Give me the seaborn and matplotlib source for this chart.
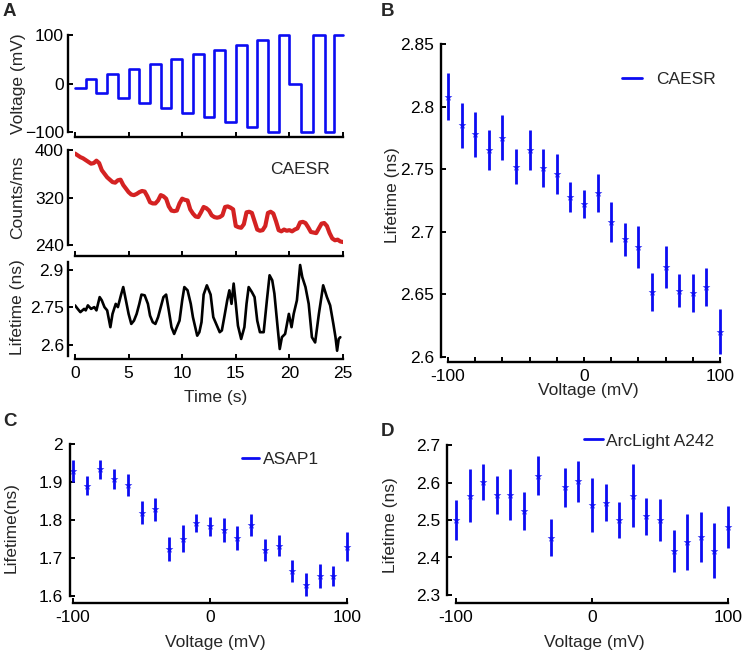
import matplotlib
matplotlib.use('Agg')
import matplotlib.pyplot as plt
import numpy as np
import pandas as pd
import seaborn as sns
from matplotlib.lines import Line2D

sns.set_style('ticks', {'xtick.direction': 'in', 'ytick.direction': 'in'})
plt.rcParams['font.family'] = ['Liberation Sans', 'DejaVu Sans']
plt.rcParams['font.size'] = 12.5

BLUE = '#0c0cf2'
RED = '#d42222'

# --- panel A: voltage protocol (step start times, level held until next step)
step_times = [0, 1, 2, 3, 4, 5, 6, 7, 8, 9, 10, 11, 12, 13, 14, 15, 16, 17, 18, 19,
              20, 21.1, 22.2, 23.3, 24.2, 25]
step_levels = [-10, 10, -20, 20, -30, 30, -40, 40, -50, 50, -60, 60, -70, 70, -80, 80,
               -90, 90, -100, 100, 0, -100, 100, -100, 100, 100]

# --- panel A: photon counts, sampled every 0.25 s
count_dt = 0.25
counts = [394, 391, 388, 386, 383, 380, 377, 378, 382, 378, 366, 360, 354, 350, 346, 345,
          349, 350, 341, 335, 329, 325, 324, 326, 329, 331, 330, 322, 312, 310, 310, 315,
          324, 322, 318, 305, 298, 297, 298, 310, 318, 316, 315, 300, 293, 288, 287, 295,
          304, 302, 298, 290, 287, 286, 287, 290, 304, 305, 303, 300, 272, 270, 269, 275,
          295, 296, 294, 280, 266, 264, 265, 272, 294, 296, 293, 280, 265, 263, 266, 264,
          265, 263, 266, 268, 278, 279, 277, 270, 262, 261, 260, 268, 276, 277, 272, 260,
          251, 248, 249, 246, 245]

# --- panel A: lifetime trace
lt_time = [0, 0.25, 0.5, 0.85, 1.0, 1.2, 1.5, 1.8, 2.0, 2.3, 2.5, 2.75, 3.0, 3.3, 3.5, 3.8,
           4.0, 4.3, 4.5, 4.75, 5.0, 5.25, 5.5, 5.75, 6.0, 6.2, 6.5, 6.8, 7.0, 7.25, 7.5,
           7.75, 8.0, 8.25, 8.5, 8.75, 9.0, 9.25, 9.5, 9.75, 10.0, 10.2, 10.5, 10.8, 11.0,
           11.4, 11.6, 11.8, 12.0, 12.3, 12.65, 12.9, 13.1, 13.5, 13.7, 13.95, 14.2, 14.4,
           14.6, 14.8, 15.0, 15.2, 15.5, 15.8, 16.0, 16.2, 16.5, 16.75, 17.0, 17.25, 17.6,
           17.9, 18.15, 18.4, 18.6, 18.9, 19.1, 19.3, 19.6, 19.95, 20.2, 20.4, 20.7, 21.0,
           21.2, 21.5, 21.8, 22.1, 22.4, 22.75, 23.15, 23.5, 23.8, 24.1, 24.3, 24.45, 24.6,
           24.75]
lt_value = [2.757, 2.743, 2.73, 2.743, 2.737, 2.757, 2.743, 2.75, 2.737, 2.79, 2.777, 2.75,
            2.737, 2.67, 2.723, 2.763, 2.75, 2.80, 2.83, 2.777, 2.723, 2.683, 2.696, 2.723,
            2.763, 2.80, 2.797, 2.763, 2.716, 2.69, 2.683, 2.71, 2.75, 2.79, 2.80, 2.737,
            2.67, 2.643, 2.67, 2.696, 2.777, 2.83, 2.817, 2.763, 2.71, 2.636, 2.65, 2.69,
            2.80, 2.837, 2.80, 2.71, 2.69, 2.65, 2.657, 2.716, 2.777, 2.817, 2.763, 2.844,
            2.763, 2.676, 2.623, 2.67, 2.763, 2.83, 2.81, 2.79, 2.696, 2.65, 2.65, 2.777,
            2.877, 2.857, 2.804, 2.67, 2.583, 2.63, 2.643, 2.723, 2.67, 2.723, 2.777, 2.918,
            2.87, 2.83, 2.763, 2.63, 2.609, 2.723, 2.837, 2.79, 2.757, 2.683, 2.63, 2.576,
            2.623, 2.63]

# --- panels B-D: lifetime vs voltage
voltages = [-100, -90, -80, -70, -60, -50, -40, -30, -20, -10, 0,
            10, 20, 30, 40, 50, 60, 70, 80, 90, 100]
caesr_mean = [2.808, 2.785, 2.778, 2.765, 2.775, 2.752, 2.765, 2.751, 2.746, 2.728, 2.722,
              2.731, 2.708, 2.694, 2.688, 2.652, 2.672, 2.653, 2.651, 2.656, 2.620]
caesr_err = [0.019, 0.018, 0.018, 0.016, 0.018, 0.014, 0.016, 0.015, 0.016, 0.012, 0.011,
             0.015, 0.016, 0.013, 0.017, 0.015, 0.017, 0.013, 0.015, 0.015, 0.018]
asap_mean = [1.930, 1.890, 1.933, 1.908, 1.892, 1.819, 1.828, 1.723, 1.751, 1.793, 1.784,
             1.773, 1.753, 1.788, 1.720, 1.732, 1.666, 1.630, 1.653, 1.653, 1.730]
asap_err = [0.029, 0.025, 0.024, 0.026, 0.029, 0.030, 0.031, 0.031, 0.035, 0.024, 0.025,
            0.031, 0.032, 0.029, 0.029, 0.028, 0.029, 0.030, 0.031, 0.026, 0.039]
arc_mean = [2.500, 2.565, 2.601, 2.566, 2.568, 2.524, 2.618, 2.453, 2.588, 2.603, 2.539,
            2.546, 2.500, 2.565, 2.510, 2.499, 2.416, 2.442, 2.455, 2.418, 2.482]
arc_err = [0.053, 0.071, 0.048, 0.051, 0.067, 0.050, 0.052, 0.049, 0.052, 0.055, 0.072,
           0.050, 0.048, 0.084, 0.050, 0.056, 0.056, 0.075, 0.067, 0.073, 0.056]

volt_df = pd.DataFrame({'time': step_times, 'voltage': step_levels})
count_df = pd.DataFrame({'time': np.arange(len(counts)) * count_dt, 'counts': counts})
lt_df = pd.DataFrame({'time': lt_time, 'lifetime': lt_value})

PX = 100 / 72.0  # pixels per point at dpi 100


def style_axis(ax, left_off, bottom_off, ypad=4):
    sns.despine(ax=ax)
    ax.spines['left'].set_position(('outward', left_off / PX))
    ax.spines['bottom'].set_position(('outward', bottom_off / PX))
    for side in ('left', 'bottom'):
        ax.spines[side].set_linewidth(1.7)
        ax.spines[side].set_color('black')
    ax.tick_params(axis='both', direction='in', length=3.5, width=1.4, labelsize=12.5,
                   colors='black')
    ax.tick_params(axis='y', pad=ypad)
    ax.tick_params(axis='x', pad=5)
    ax.set_facecolor('none')


def add_rect(rect):
    return fig.add_axes([rect[0] / 744, 1 - rect[3] / 657,
                         (rect[2] - rect[0]) / 744, (rect[3] - rect[1]) / 657])


fig = plt.figure(figsize=(7.44, 6.57), dpi=100)

# ---------------- A: voltage
ax1 = add_rect((75, 35, 343, 132))
sns.lineplot(data=volt_df, x='time', y='voltage', ax=ax1, color=BLUE, lw=1.9,
             drawstyle='steps-post', clip_on=False)
ax1.set_xlim(0, 25)
ax1.set_ylim(-100, 100)
ax1.set_xticks([0, 5, 10, 15, 20, 25])
ax1.set_xticklabels([])
ax1.set_yticks([-100, 0, 100])
ax1.set_xlabel('')
ax1.set_ylabel('Voltage (mV)', fontsize=12.5)
style_axis(ax1, 7, 5, ypad=3)
ax1.yaxis.set_label_coords(-0.183, 0.5)

# ---------------- A: counts
ax2 = add_rect((75, 150, 343, 245))
sns.lineplot(data=count_df, x='time', y='counts', ax=ax2, color=RED, lw=3.0)
ax2.set_xlim(0, 25)
ax2.set_ylim(240, 400)
ax2.set_xticks([0, 5, 10, 15, 20, 25])
ax2.set_xticklabels([])
ax2.set_yticks([240, 320, 400])
ax2.set_xlabel('')
ax2.set_ylabel('Counts/ms', fontsize=12.5)
ax2.text(0.728, 0.80, 'CAESR', transform=ax2.transAxes, fontsize=12.5, va='center')
style_axis(ax2, 7, 11, ypad=3)
ax2.yaxis.set_label_coords(-0.187, 0.5)

# ---------------- A: lifetime
ax3 = add_rect((75, 262, 343, 356))
sns.lineplot(data=lt_df, x='time', y='lifetime', ax=ax3, color='black', lw=1.9)
ax3.set_xlim(0, 25)
ax3.set_ylim(2.555, 2.93)
ax3.set_xticks([0, 5, 10, 15, 20, 25])
ax3.set_yticks([2.6, 2.75, 2.9])
ax3.set_yticklabels(['2.6', '2.75', '2.9'])
ax3.set_xlabel('Time (s)', fontsize=12.5)
ax3.set_ylabel('Lifetime (ns)', fontsize=12.5)
style_axis(ax3, 7, 3, ypad=3)
ax3.yaxis.set_label_coords(-0.187, 0.52)
ax3.xaxis.set_label_coords(0.526, -0.36)
ax3.xaxis.label.set_va('top')


def error_panel(ax, mean, err, ylim, yticks, yticklabels, xticks, xticklabels):
    df = pd.DataFrame({'voltage': voltages, 'lifetime': mean, 'err': err})
    ax.errorbar(df['voltage'], df['lifetime'], yerr=df['err'], fmt='none',
                ecolor=BLUE, elinewidth=2.0, capsize=0, clip_on=False)
    sns.scatterplot(data=df, x='voltage', y='lifetime', ax=ax, color=BLUE, marker='*',
                    s=34, linewidth=0, clip_on=False, legend=False)
    ax.set_xlim(-100, 100)
    ax.set_ylim(*ylim)
    ax.set_yticks(yticks)
    ax.set_yticklabels(yticklabels)
    ax.set_xticks(xticks)
    ax.set_xticklabels(xticklabels)
    ax.set_xlabel('Voltage (mV)', fontsize=12.5)
    ax.xaxis.label.set_va('top')
    return Line2D([], [], color=BLUE, lw=2.0)


# ---------------- B
axb = add_rect((448, 44, 720, 357))
hb = error_panel(axb, caesr_mean, caesr_err, (2.6, 2.85),
                 [2.6, 2.65, 2.7, 2.75, 2.8, 2.85],
                 ['2.6', '2.65', '2.7', '2.75', '2.8', '2.85'],
                 [-100, -80, -60, -40, -20, 0, 20, 40, 60, 80, 100],
                 ['-100', '', '', '', '', '0', '', '', '', '', '100'])
axb.set_ylabel('Lifetime (ns)', fontsize=12.5)
style_axis(axb, 7, 5, ypad=5)
axb.yaxis.set_label_coords(-0.176, 0.518)
axb.xaxis.set_label_coords(0.515, -0.083)
axb.legend([hb], ['CAESR'], loc='center left', bbox_to_anchor=(0.640, 0.888),
           frameon=False, borderpad=0, borderaxespad=0, handlelength=1.15,
           handletextpad=0.8, fontsize=12.5)

# ---------------- C
axc = add_rect((73, 444, 347, 596))
hc = error_panel(axc, asap_mean, asap_err, (1.6, 2.0),
                 [1.6, 1.7, 1.8, 1.9, 2.0], ['1.6', '1.7', '1.8', '1.9', '2'],
                 [-100, 0, 100], ['-100', '0', '100'])
axc.set_ylabel('Lifetime(ns)', fontsize=12.5)
style_axis(axc, 3, 7, ypad=5)
axc.yaxis.set_label_coords(-0.20, 0.45)
axc.xaxis.set_label_coords(0.518, -0.257)
axc.legend([hc], ['ASAP1'], loc='center left', bbox_to_anchor=(0.617, 0.901),
           frameon=False, borderpad=0, borderaxespad=0, handlelength=0.97,
           handletextpad=0.25, fontsize=12.5)

# ---------------- D
axd = add_rect((456, 445, 728, 595))
hd = error_panel(axd, arc_mean, arc_err, (2.3, 2.7),
                 [2.3, 2.4, 2.5, 2.6, 2.7], ['2.3', '2.4', '2.5', '2.6', '2.7'],
                 [-100, 0, 100], ['-100', '0', '100'])
axd.set_ylabel('Lifetime (ns)', fontsize=12.5)
style_axis(axd, 9, 8, ypad=5)
axd.yaxis.set_label_coords(-0.213, 0.467)
axd.xaxis.set_label_coords(0.51, -0.267)
axd.legend([hd], ['ArcLight A242'], loc='center left', bbox_to_anchor=(0.47, 1.027),
           frameon=False, borderpad=0, borderaxespad=0, handlelength=1.1,
           handletextpad=0.2, fontsize=12.5)

# panel letters
for letter, (px, py) in {'A': (3, 11), 'B': (381, 11), 'C': (3, 421), 'D': (381, 432)}.items():
    fig.text(px / 744, 1 - py / 657, letter, fontsize=13.5, fontweight='bold',
             ha='left', va='center')

fig.savefig('out.png', dpi=100)
